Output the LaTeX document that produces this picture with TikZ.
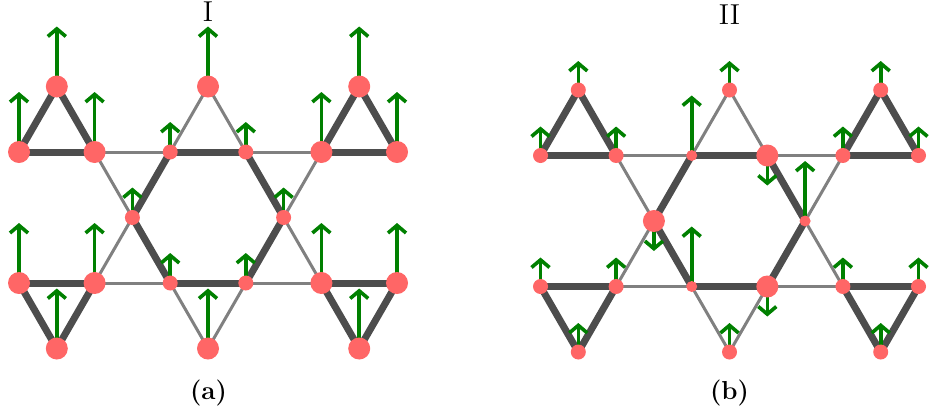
\documentclass[tikz,border=0pt]{standalone}
\usetikzlibrary{arrows.meta}
\pgfdeclarelayer{edges}
\pgfdeclarelayer{spins}
\pgfsetlayers{edges,spins,main}
\definecolor{sitecol}{RGB}{255,102,102}
\definecolor{strongcol}{RGB}{77,77,77}
\definecolor{weakcol}{RGB}{128,128,128}
\definecolor{spincol}{RGB}{0,128,0}
\newcommand\latticebonds[1]{%
  \foreach \s/\t in {T1/U1,T1/U2,U1/U2,U3/U4,U5/U6,T3/U5,T3/U6,U3/M1,U4/M2,M1/L3,M2/L4,L1/L2,L3/L4,L5/L6,B1/L1,B1/L2,B3/L5,B3/L6}
    \draw[strongbond] (#1\s.center) -- (#1\t.center);
  \foreach \s/\t in {T2/U3,T2/U4,U2/U3,U4/U5,U2/M1,U5/M2,M1/L2,M2/L5,L2/L3,L4/L5,B2/L3,B2/L4}
    \draw[weakbond] (#1\s.center) -- (#1\t.center);
}
\begin{document}
\begin{tikzpicture}[x=0.5pt,y=-0.5pt,
  sitebase/.style={circle,fill=sitecol,inner sep=0pt,draw=none},
  bigsite/.style={sitebase,minimum size=11pt},
  medsite/.style={sitebase,minimum size=7.5pt},
  smallsite/.style={sitebase,minimum size=5.5pt},
  strongbond/.style={draw=strongcol,line width=3.5pt},
  weakbond/.style={draw=weakcol,line width=1.5pt},
  spinarrow/.style={draw=spincol,line width=1.8pt,-{Straight Barb[length=3.8pt,width=9pt]}},
  toplabel/.style={anchor=base,font=\fontsize{14.4}{16}\selectfont},
  caplabel/.style={anchor=base,font=\fontsize{13}{15}\selectfont\bfseries}]
\useasboundingbox (0,0) rectangle (929,414);

% ---------- panel (a) ----------
\node[bigsite] (aT1) at (56.8,86.5) {};
\node[bigsite] (aT2) at (208,86.5) {};
\node[bigsite] (aT3) at (359.2,86.5) {};
\node[bigsite] (aU1) at (19,152) {};
\node[bigsite] (aU2) at (94.6,152) {};
\node[medsite] (aU3) at (170.2,152) {};
\node[medsite] (aU4) at (245.8,152) {};
\node[bigsite] (aU5) at (321.4,152) {};
\node[bigsite] (aU6) at (397,152) {};
\node[medsite] (aM1) at (132.4,217.5) {};
\node[medsite] (aM2) at (283.6,217.5) {};
\node[bigsite] (aL1) at (19,283) {};
\node[bigsite] (aL2) at (94.6,283) {};
\node[medsite] (aL3) at (170.2,283) {};
\node[medsite] (aL4) at (245.8,283) {};
\node[bigsite] (aL5) at (321.4,283) {};
\node[bigsite] (aL6) at (397,283) {};
\node[bigsite] (aB1) at (56.8,348.5) {};
\node[bigsite] (aB2) at (208,348.5) {};
\node[bigsite] (aB3) at (359.2,348.5) {};

\begin{pgfonlayer}{edges}
  \latticebonds{a}
\end{pgfonlayer}
\begin{pgfonlayer}{spins}
  \foreach \n in {T1,T2,T3,U1,U2,U5,U6,L1,L2,L5,L6,B1,B2,B3}
    \draw[spinarrow] (a\n.center) -- ++(0,-60);
  \foreach \n in {U3,U4,M1,M2,L3,L4}
    \draw[spinarrow] (a\n.center) -- ++(0,-30);
\end{pgfonlayer}
\node[toplabel] (labI) at (208,21) {I};
\node[caplabel] (capa) at (208.5,399) {(a)};

% ---------- panel (b) ----------
\begin{scope}[shift={(521.5,3.5)}]
\node[medsite] (bT1) at (56.8,86.5) {};
\node[medsite] (bT2) at (208,86.5) {};
\node[medsite] (bT3) at (359.2,86.5) {};
\node[medsite] (bU1) at (19,152) {};
\node[medsite] (bU2) at (94.6,152) {};
\node[smallsite] (bU3) at (170.2,152) {};
\node[bigsite] (bU4) at (245.8,152) {};
\node[medsite] (bU5) at (321.4,152) {};
\node[medsite] (bU6) at (397,152) {};
\node[bigsite] (bM1) at (132.4,217.5) {};
\node[smallsite] (bM2) at (283.6,217.5) {};
\node[medsite] (bL1) at (19,283) {};
\node[medsite] (bL2) at (94.6,283) {};
\node[smallsite] (bL3) at (170.2,283) {};
\node[bigsite] (bL4) at (245.8,283) {};
\node[medsite] (bL5) at (321.4,283) {};
\node[medsite] (bL6) at (397,283) {};
\node[medsite] (bB1) at (56.8,348.5) {};
\node[medsite] (bB2) at (208,348.5) {};
\node[medsite] (bB3) at (359.2,348.5) {};
\end{scope}

\begin{pgfonlayer}{edges}
  \latticebonds{b}
\end{pgfonlayer}
\begin{pgfonlayer}{spins}
  \foreach \n in {T1,T2,T3,U1,U2,U5,U6,L1,L2,L5,L6,B1,B2,B3}
    \draw[spinarrow] (b\n.center) -- ++(0,-29);
  \foreach \n in {U3,M2,L3}
    \draw[spinarrow] (b\n.center) -- ++(0,-60);
  \foreach \n in {U4,M1,L4}
    \draw[spinarrow] (b\n.center) -- ++(0,30);
\end{pgfonlayer}
\node[toplabel] (labII) at (729.5,24) {II};
\node[caplabel] (capb) at (729.5,399) {(b)};
\end{tikzpicture}
\end{document}
